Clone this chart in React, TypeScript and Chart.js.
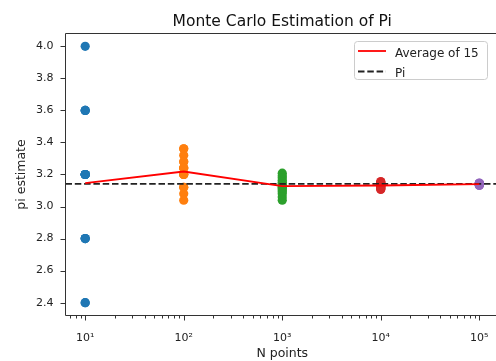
import React, { useEffect, useRef } from 'react';
import { Chart, registerables } from 'chart.js';

Chart.register(...registerables);

// ---- data ----
const nPoints = [10, 100, 1000, 10000, 100000];
const est10 = [4.0, 3.6, 3.6, 3.6, 3.2, 3.2, 3.2, 3.2, 3.2, 3.2, 2.8, 2.8, 2.8, 2.4, 2.4];
const est100 = [3.36, 3.36, 3.32, 3.28, 3.28, 3.24, 3.24, 3.24, 3.2, 3.2, 3.2, 3.12, 3.12, 3.08, 3.04];
const est1000 = [3.208, 3.192, 3.18, 3.164, 3.152, 3.14, 3.136, 3.128, 3.12, 3.112, 3.104, 3.092, 3.08, 3.06, 3.04];
const est10000 = [3.156, 3.1532, 3.148, 3.144, 3.1412, 3.1388, 3.1356, 3.132, 3.128, 3.1248, 3.1216, 3.118, 3.1144, 3.11, 3.1064];
const est100000 = [3.1468, 3.1452, 3.144, 3.1432, 3.1424, 3.1416, 3.1408, 3.14, 3.1392, 3.1384, 3.1376, 3.1364, 3.1352, 3.134, 3.132];
const estimates = [est10, est100, est1000, est10000, est100000];
const seriesColors = ['#1f77b4', '#ff7f0e', '#2ca02c', '#d62728', '#9467bd'];

const yTickValues = [2.4, 2.6, 2.8, 3.0, 3.2, 3.4, 3.6, 3.8, 4.0];
const yTickLabels = ['2.4', '2.6', '2.8', '3.0', '3.2', '3.4', '3.6', '3.8', '4.0'];
const xMajorValues = [10, 100, 1000, 10000, 100000];
const xMajorLabels = ['10\u00b9', '10\u00b2', '10\u00b3', '10\u2074', '10\u2075'];

const titleText = 'Monte Carlo Estimation of Pi';
const xLabel = 'N points';
const yLabel = 'pi estimate';
const avgLabel = 'Average of 15';
const piLabel = 'Pi';

const X_MIN = Math.pow(10, 0.8);
const X_MAX = Math.pow(10, 5.2);
const Y_MIN = 2.32;
const Y_MAX = 4.08;

const FONT = "'DejaVu Sans', sans-serif";
const CW = 520;
const CH = 361;

function buildXTicks() {
  const t: number[] = [];
  for (let e = 0; e <= 5; e++) {
    for (let m = 1; m <= 9; m++) {
      const v = m * Math.pow(10, e);
      if (v >= X_MIN && v <= X_MAX) t.push(v);
    }
  }
  return t;
}

function isMajor(v: number) {
  return xMajorValues.some((m) => Math.abs(m - v) / m < 1e-9);
}

const decorPlugin = {
  id: 'mplDecor',
  afterDraw(chart: any) {
    const ctx = chart.ctx as CanvasRenderingContext2D;
    const a = chart.chartArea;
    const xs = chart.scales.x;
    const ys = chart.scales.y;
    ctx.save();
    // spines
    ctx.strokeStyle = '#333333';
    ctx.lineWidth = 1;
    ctx.setLineDash([]);
    ctx.beginPath();
    ctx.moveTo(a.left, a.bottom);
    ctx.lineTo(a.left, a.top);
    ctx.lineTo(a.right, a.top);
    ctx.moveTo(a.left, a.bottom);
    ctx.lineTo(a.right, a.bottom);
    ctx.stroke();
    // y ticks
    ctx.beginPath();
    yTickValues.forEach((v) => {
      const y = Math.round(ys.getPixelForValue(v)) + 0.5;
      ctx.moveTo(a.left - 5, y);
      ctx.lineTo(a.left, y);
    });
    // x ticks
    buildXTicks().forEach((v) => {
      const x = Math.round(xs.getPixelForValue(v)) + 0.5;
      const len = isMajor(v) ? 5 : 3;
      ctx.moveTo(x, a.bottom);
      ctx.lineTo(x, a.bottom + len);
    });
    ctx.stroke();

    // title
    ctx.fillStyle = '#111111';
    ctx.textAlign = 'center';
    ctx.textBaseline = 'alphabetic';
    ctx.font = `15.5px ${FONT}`;
    ctx.fillText(titleText, (a.left + a.right) / 2, 25.5);
    // x label
    ctx.fillStyle = '#222222';
    ctx.font = `12.5px ${FONT}`;
    ctx.fillText(xLabel, (a.left + a.right) / 2, 357);
    // y label
    ctx.save();
    ctx.translate(25, (a.top + a.bottom) / 2);
    ctx.rotate(-Math.PI / 2);
    ctx.fillText(yLabel, 0, 0);
    ctx.restore();

    // legend
    const lx = 354.5, ly = 41.5, lw = 133, lh = 38, r = 3;
    ctx.beginPath();
    ctx.moveTo(lx + r, ly);
    ctx.lineTo(lx + lw - r, ly);
    ctx.arcTo(lx + lw, ly, lx + lw, ly + r, r);
    ctx.lineTo(lx + lw, ly + lh - r);
    ctx.arcTo(lx + lw, ly + lh, lx + lw - r, ly + lh, r);
    ctx.lineTo(lx + r, ly + lh);
    ctx.arcTo(lx, ly + lh, lx, ly + lh - r, r);
    ctx.lineTo(lx, ly + r);
    ctx.arcTo(lx, ly, lx + r, ly, r);
    ctx.closePath();
    ctx.fillStyle = 'rgba(255,255,255,0.8)';
    ctx.fill();
    ctx.strokeStyle = '#cccccc';
    ctx.lineWidth = 1;
    ctx.stroke();

    const ds = chart.data.datasets;
    ctx.lineWidth = 1.8;
    ctx.strokeStyle = ds[0].borderColor;
    ctx.beginPath();
    ctx.moveTo(358, 51);
    ctx.lineTo(386, 51);
    ctx.stroke();
    ctx.strokeStyle = ds[1].borderColor;
    ctx.setLineDash(ds[1].borderDash);
    ctx.beginPath();
    ctx.moveTo(358, 71.5);
    ctx.lineTo(386, 71.5);
    ctx.stroke();
    ctx.setLineDash([]);

    ctx.fillStyle = '#222222';
    ctx.textAlign = 'left';
    ctx.font = `12px ${FONT}`;
    ctx.fillText(ds[0].label, 395, 56.5);
    ctx.fillText(ds[1].label, 395, 76.5);
    ctx.restore();
  },
};

export default function App() {
  const ref = useRef<HTMLCanvasElement>(null);
  useEffect(() => {
    if (!ref.current) return;
    const avg = estimates.map((arr) => arr.reduce((s, v) => s + v, 0) / arr.length);
    const datasets: any[] = [
      {
        type: 'line',
        label: avgLabel,
        data: nPoints.map((n, i) => ({ x: n, y: avg[i] })),
        borderColor: '#ff0000',
        borderWidth: 1.8,
        pointRadius: 0,
        fill: false,
        order: 0,
      },
      {
        type: 'line',
        label: piLabel,
        data: [
          { x: X_MIN, y: Math.PI },
          { x: X_MAX, y: Math.PI },
        ],
        borderColor: '#222222',
        borderWidth: 1.8,
        borderDash: [6.5, 2.8],
        pointRadius: 0,
        fill: false,
        order: 0,
      },
    ];
    estimates.forEach((arr, i) => {
      datasets.push({
        type: 'scatter',
        label: 'N=' + nPoints[i],
        data: arr.map((v) => ({ x: nPoints[i], y: v })),
        backgroundColor: seriesColors[i],
        borderWidth: 0,
        pointRadius: 4.6,
        order: 1,
      });
    });

    const chart = new Chart(ref.current, {
      type: 'scatter',
      data: { datasets },
      options: {
        animation: false,
        responsive: false,
        devicePixelRatio: 1,
        layout: { padding: { top: 33.5, left: 0, right: CW - 499, bottom: 0 } },
        plugins: {
          legend: { display: false },
          tooltip: { enabled: false },
          title: { display: false },
        },
        scales: {
          x: {
            type: 'logarithmic',
            min: X_MIN,
            max: X_MAX,
            grid: { display: false, drawTicks: false },
            border: { display: false },
            afterBuildTicks: (s: any) => {
              s.ticks = buildXTicks().map((v) => ({ value: v }));
            },
            afterFit: (s: any) => {
              s.height = CH - 315.5;
            },
            ticks: {
              autoSkip: false,
              maxRotation: 0,
              minRotation: 0,
              padding: 16,
              color: '#222222',
              font: { family: FONT, size: 11 },
              callback: (v: any) => {
                const idx = xMajorValues.findIndex((m) => Math.abs(m - v) / m < 1e-9);
                return idx >= 0 ? xMajorLabels[idx] : '';
              },
            },
          },
          y: {
            type: 'linear',
            min: Y_MIN,
            max: Y_MAX,
            grid: { display: false, drawTicks: false },
            border: { display: false },
            afterBuildTicks: (s: any) => {
              s.ticks = yTickValues.map((v) => ({ value: v }));
            },
            afterFit: (s: any) => {
              s.width = 65.5;
            },
            ticks: {
              autoSkip: false,
              padding: 12,
              color: '#222222',
              font: { family: FONT, size: 11 },
              callback: (v: any) => {
                const idx = yTickValues.findIndex((t) => Math.abs(t - v) < 1e-9);
                return idx >= 0 ? yTickLabels[idx] : '';
              },
            },
          },
        },
      },
      plugins: [decorPlugin],
    } as any);
    return () => chart.destroy();
  }, []);

  return (
    <div style={{ position: 'fixed', left: 0, top: 0, width: 496, height: 361, overflow: 'hidden', background: '#ffffff' }}>
      <canvas ref={ref} width={CW} height={CH} style={{ display: 'block', width: CW, height: CH }} />
    </div>
  );
}
